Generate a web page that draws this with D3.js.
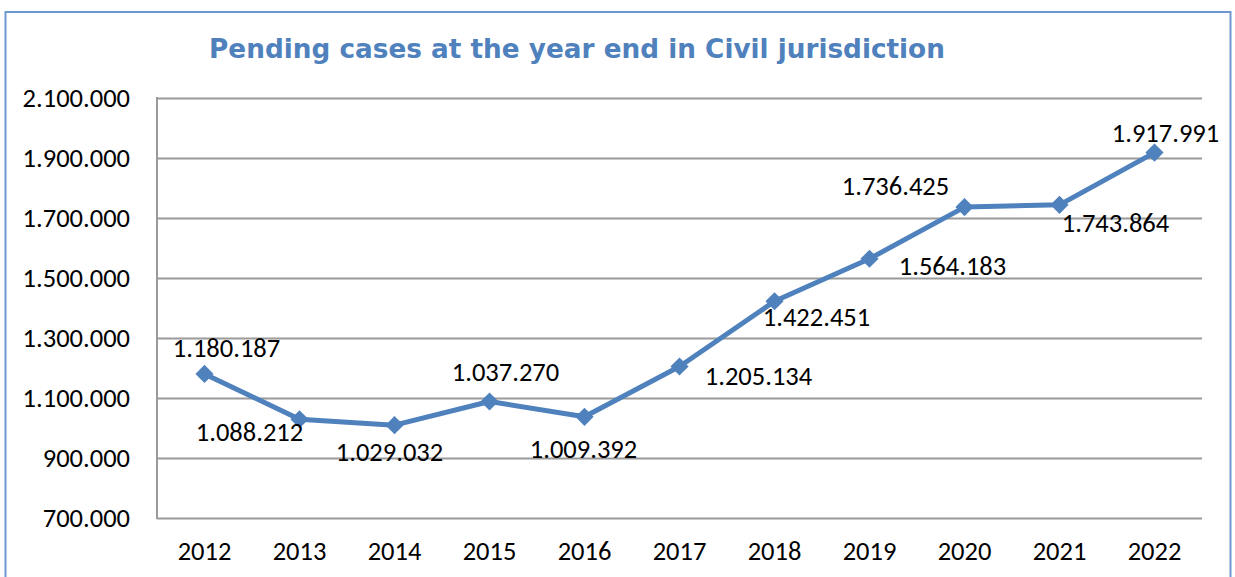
<!DOCTYPE html>
<html>
<head>
<meta charset="utf-8">
<script src="https://cdn.jsdelivr.net/npm/d3@7"></script>
<style>
  html, body { margin: 0; padding: 0; background: #fff; }
  svg { display: block; }
</style>
</head>
<body>
<svg id="chart" width="1235" height="577"></svg>
<script>
// ---- data ----
const years = ["2012","2013","2014","2015","2016","2017","2018","2019","2020","2021","2022"];
const pending = [1180187, 1029032, 1009392, 1088212, 1037270, 1205134, 1422451, 1564183, 1736425, 1743864, 1917991];
// data labels as printed in the source chart
const labelTexts = ["1.180.187","1.088.212","1.029.032","1.037.270","1.009.392","1.205.134","1.422.451","1.564.183","1.736.425","1.743.864","1.917.991"];
const yTicks = [700000, 900000, 1100000, 1300000, 1500000, 1700000, 1900000, 2100000];
const titleText = "Pending cases at the year end in Civil jurisdiction";

// ---- layout (not data) ----
const labelOffsets = [[22,-26],[-50,13],[-5,27],[16,-30],[-1,32],[79,10],[42,16],[83,7],[-69,-21],[56,18],[11,-20]];
const plot = { left: 157, right: 1202, top: 98, bottom: 518 };
const blue = "#4F81BD";
const font = "Calibri, Carlito, 'Open Sans', sans-serif";
const fs = 26.5;

const svg = d3.select("#chart");

// outer frame
svg.append("rect")
  .attr("x", 5.5).attr("y", 12).attr("width", 1225).attr("height", 580)
  .attr("fill", "none").attr("stroke", "#6E97CF").attr("stroke-width", 2);

// title
const title = svg.append("text")
  .attr("x", 577).attr("y", 49)
  .attr("text-anchor", "middle").attr("dominant-baseline", "central")
  .attr("font-family", "Verdana, 'DejaVu Sans', sans-serif")
  .attr("font-weight", "bold").attr("font-size", 25)
  .attr("fill", blue).text(titleText);
const tw = title.node().getComputedTextLength();
title.attr("font-size", 25 * 736 / tw);

const x = d3.scaleBand().domain(years).range([plot.left, plot.right]);
const y = d3.scaleLinear().domain([700000, 2100000]).range([plot.bottom, plot.top]);

const fmt = v => d3.format(",")(v).replace(/,/g, ".");

// gridlines
const yAxis = d3.axisLeft(y).tickValues(yTicks).tickSize(-(plot.right - plot.left)).tickFormat(fmt).tickPadding(27);
const gy = svg.append("g").attr("transform", `translate(${plot.left},0)`).call(yAxis);
gy.select(".domain").remove();
gy.selectAll(".tick line").attr("stroke", "#9A9A9A").attr("stroke-width", 2);
gy.selectAll(".tick text").attr("font-family", font).attr("font-size", fs).attr("fill", "#000");

// left axis line
svg.append("line")
  .attr("x1", plot.left).attr("x2", plot.left)
  .attr("y1", plot.top - 1).attr("y2", plot.bottom + 1)
  .attr("stroke", "#9A9A9A").attr("stroke-width", 2);

// x axis labels
const xAxis = d3.axisBottom(x).tickSize(0).tickPadding(23);
const gx = svg.append("g").attr("transform", `translate(0,${plot.bottom})`).call(xAxis);
gx.select(".domain").remove();
gx.selectAll(".tick text").attr("font-family", font).attr("font-size", fs).attr("fill", "#000");

const cx = i => x(years[i]) + x.bandwidth() / 2;

// line
svg.append("path")
  .datum(pending)
  .attr("fill", "none").attr("stroke", blue).attr("stroke-width", 5).attr("stroke-linejoin", "round")
  .attr("d", d3.line().x((d, i) => cx(i)).y(d => y(d)));

// markers (diamonds)
svg.selectAll(".mk").data(pending).join("path")
  .attr("class", "mk")
  .attr("d", d3.symbol(d3.symbolSquare, 165))
  .attr("transform", (d, i) => `translate(${cx(i)},${y(d)}) rotate(45)`)
  .attr("fill", blue);

// data labels
svg.selectAll(".lbl").data(labelTexts).join("text")
  .attr("class", "lbl")
  .attr("x", (d, i) => cx(i) + labelOffsets[i][0])
  .attr("y", (d, i) => y(pending[i]) + labelOffsets[i][1])
  .attr("text-anchor", "middle").attr("dominant-baseline", "central")
  .attr("font-family", font).attr("font-size", fs).attr("fill", "#000")
  .text(d => d);
</script>
</body>
</html>
